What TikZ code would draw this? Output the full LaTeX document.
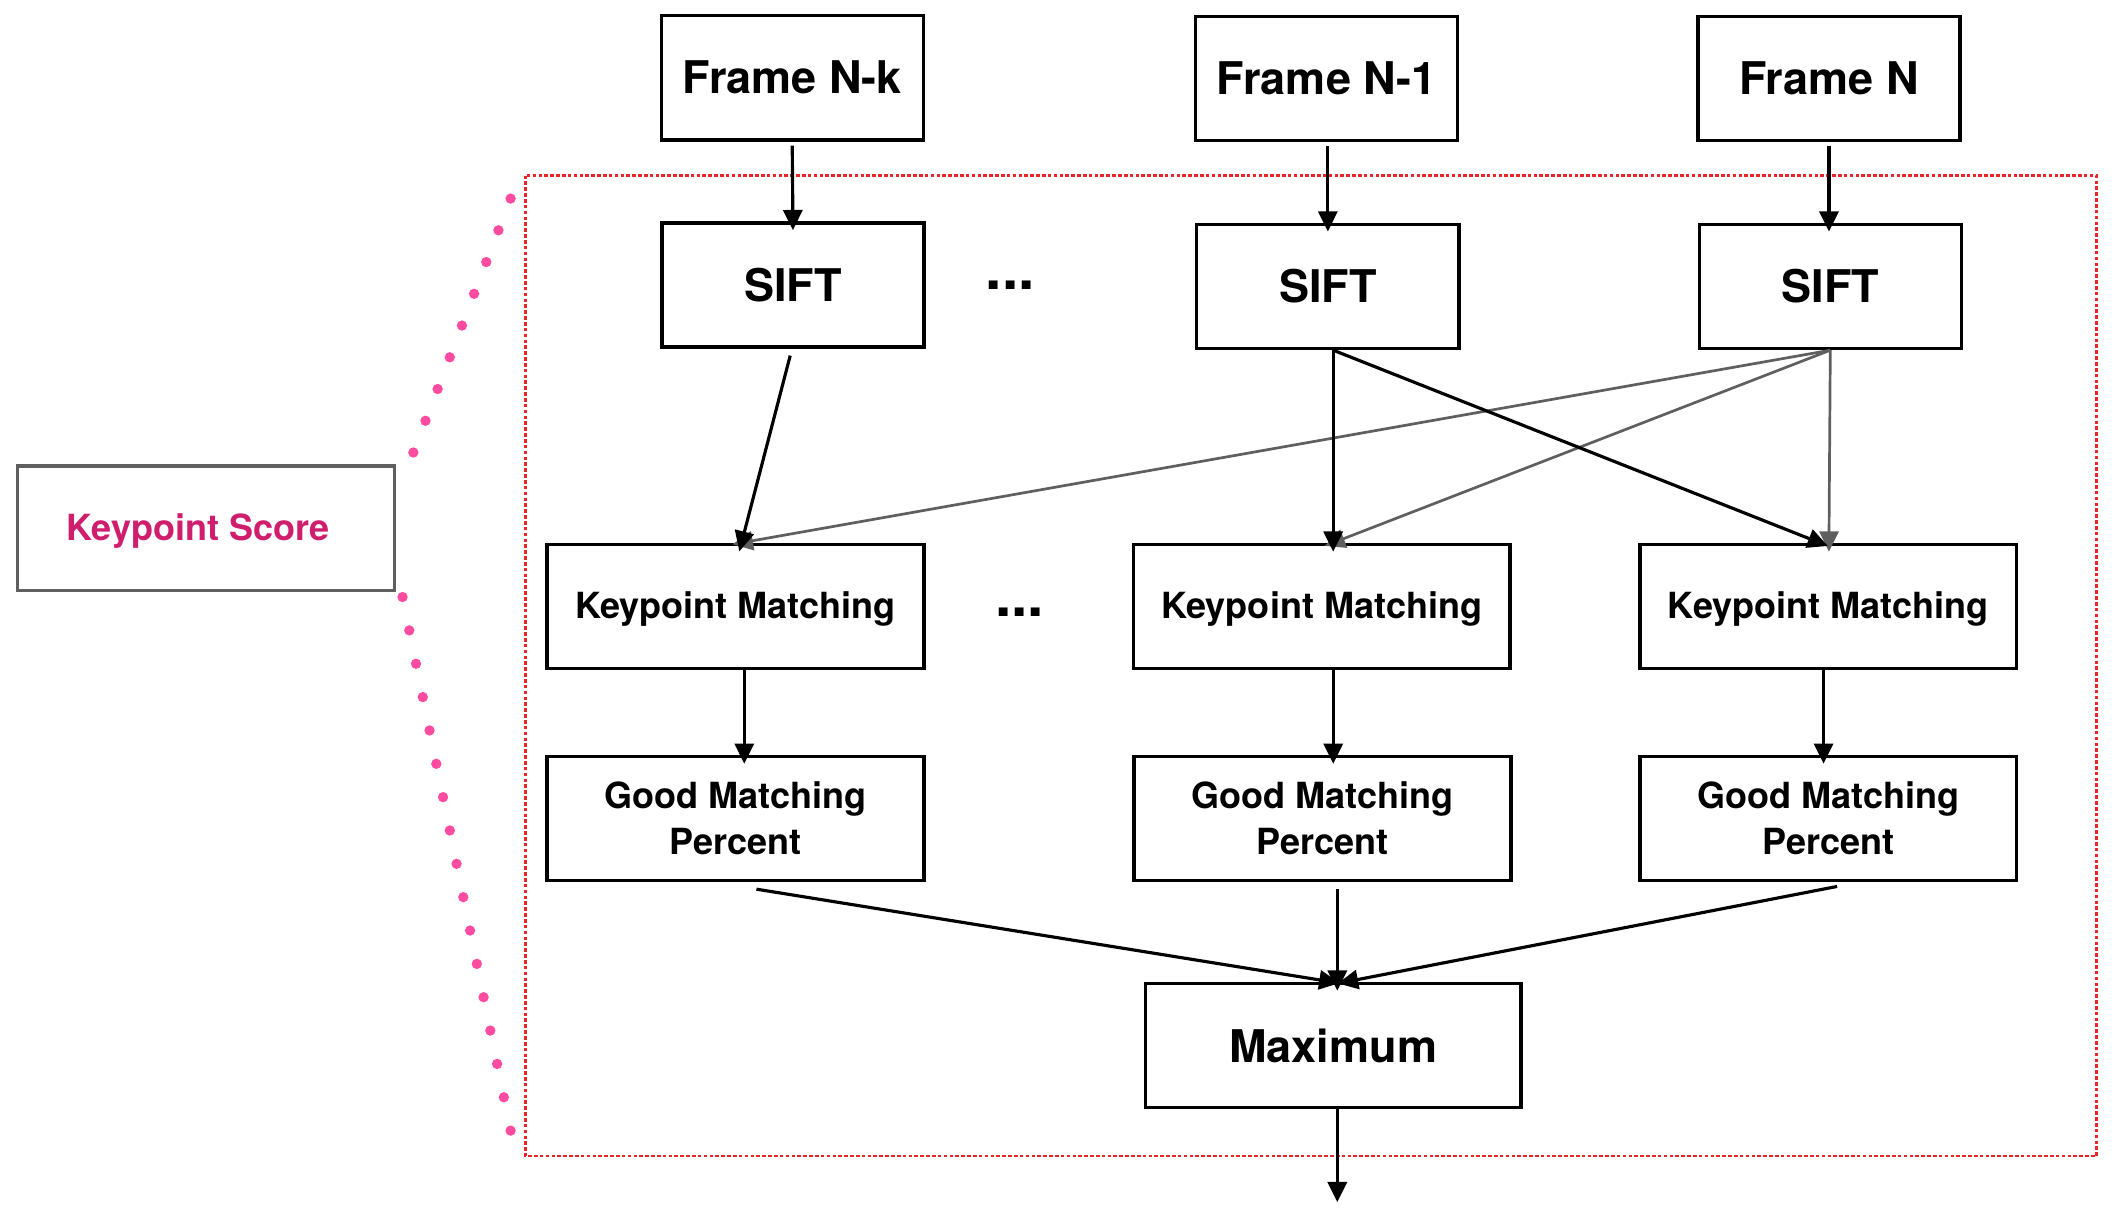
\documentclass[tikz,border=0pt]{standalone}
\usepackage{fontspec}
\setmainfont{TeX Gyre Heros}
\usetikzlibrary{arrows.meta,calc}
\definecolor{ksmag}{RGB}{208,30,110}
\definecolor{dotpink}{RGB}{255,75,160}
\definecolor{framered}{RGB}{232,40,40}
\definecolor{arrgray}{RGB}{95,95,95}
\begin{document}
\begin{tikzpicture}[x=0.6pt,y=-0.6pt,
  box/.style={draw=black,line width=1.5pt,minimum width=116.4pt,minimum height=55.2pt,inner sep=0pt,font=\fontsize{20}{24}\selectfont\bfseries},
  widebox/.style={box,minimum width=167.4pt,font=\fontsize{16}{20.4}\selectfont\bfseries,align=center},
  kmbox/.style={widebox,text height=11pt,text depth=0pt},
  arr/.style={line width=1.4pt,shorten >=-4pt,-{Triangle[length=9pt,width=8.5pt]}},
  garr/.style={arr,line width=1.2pt,draw=arrgray,color=arrgray},
  dotsty/.style={font=\fontsize{26}{28}\selectfont\bfseries,inner sep=0pt}
]
\useasboundingbox (0,0) rectangle (1568,896);
% red dotted frame
\draw[framered,line width=1pt,dash pattern=on 1.6pt off 1pt] (389,130) rectangle (1552,856);
% nodes
\node[box] (fNk) at (586.5,57.5) {Frame N-k};
\node[box] (fN1) at (982,58) {Frame N-1};
\node[box] (fN)  at (1354,58) {Frame N};
\node[box] (s1) at (587,211) {SIFT};
\node[box] (s2) at (983,212) {SIFT};
\node[box] (s3) at (1355,212) {SIFT};
\node[dotsty] (d1) at (748,211) {...};
\node[kmbox] (km1) at (544.5,449) {Keypoint Matching};
\node[kmbox] (km2) at (978.5,449) {Keypoint Matching};
\node[kmbox] (km3) at (1353.5,449) {Keypoint Matching};
\node[dotsty] (d2) at (755,453) {...};
\node[widebox] (g1) at (544.5,606) {Good Matching\\Percent};
\node[widebox] (g2) at (979,606) {Good Matching\\Percent};
\node[widebox] (g3) at (1353.5,606) {Good Matching\\Percent};
\node[box,minimum width=166.8pt] (mx) at (987,774) {Maximum};
\node[box,draw=arrgray,minimum width=167.4pt,text=ksmag,text height=11pt,text depth=0pt,font=\fontsize{16}{20}\selectfont\bfseries] (ks) at (152.5,391) {\hspace*{-7pt}Keypoint Score};
\coordinate (out) at (990,890);
% pink dotted links
\coordinate (pa1) at (378,147);
\coordinate (pa2) at (306,335);
\coordinate (pb1) at (298,442);
\coordinate (pb2) at (378,837);
\foreach \i in {0,...,8} \fill[dotpink] ($(pa1)!\i/8!(pa2)$) circle[radius=2.3pt];
\foreach \i in {0,...,16} \fill[dotpink] ($(pb1)!\i/16!(pb2)$) circle[radius=2.3pt];
% arrows frame -> sift
\draw[arr] ($(fNk.south)+(0,3)$) -- (s1.north);
\draw[arr] ($(fN1.south)+(1,3)$) -- ($(s2.north)+(0,0)$);
\draw[arr] ($(fN.south)+(0,3)$) -- ($(s3.north)+(-1,0)$);
% sift -> keypoint matching
\draw[garr] (s3.south) -- ($(km1.north)+(4.5,0)$);
\draw[garr] (s3.south) -- ($(km2.north)+(8.5,0)$);
\draw[garr] (s3.south) -- ($(km3.north)+(0.5,0)$);
\draw[arr] ($(s1.south)+(-2,5)$) -- ($(km1.north)+(4.5,0)$);
\draw[arr] ($(s2.south)+(4,0)$) -- ($(km2.north)+(8.5,0)$);
\draw[arr] ($(s2.south)+(4,0)$) -- ($(km3.north)+(-6.5,0)$);
% keypoint matching -> good matching
\draw[arr] (km1.south) ++(6.5,0) coordinate (k1s) -- (k1s |- g1.north);
\draw[arr] (km2.south) ++(8.5,0) coordinate (k2s) -- (k2s |- g2.north);
\draw[arr] (km3.south) ++(-3.5,0) coordinate (k3s) -- (k3s |- g3.north);
% good matching -> maximum
\draw[arr] ($(g1.south)+(15.5,5)$) -- ($(mx.north)+(-2,0)$);
\draw[arr] ($(g2.south)+(11,5)$) -- ($(mx.north)+(3,0)$);
\draw[arr] ($(g3.south)+(6.5,3)$) -- ($(mx.north)+(10,0)$);
% output
\draw[arr,shorten >=0pt] ($(mx.south)+(3,0)$) -- (out);
\end{tikzpicture}
\end{document}
